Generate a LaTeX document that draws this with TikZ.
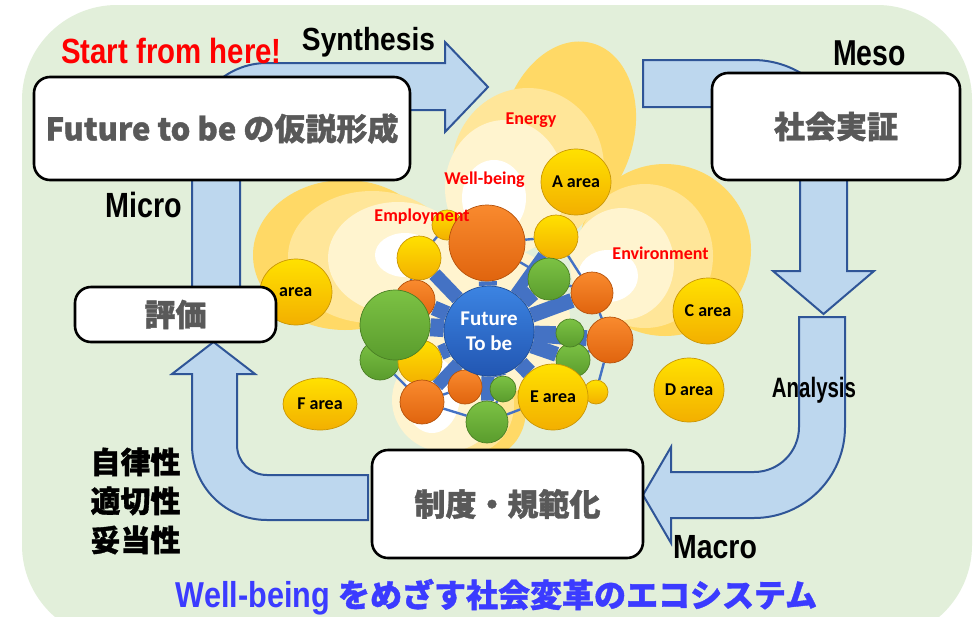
\documentclass[tikz,border=0pt]{standalone}
\usepackage{fontspec}
\usepackage{graphicx}
\usetikzlibrary{shapes.geometric}
\newfontfamily\jpfont{Noto Sans CJK JP}[BoldFeatures={FakeBold=1.2}]
\newfontfamily\arfont{Liberation Sans}
\newfontfamily\cbfont{Carlito}
\definecolor{bggreen}{HTML}{E2EFDA}
\definecolor{petalA}{HTML}{FFD966}
\definecolor{petalB}{HTML}{FFE699}
\definecolor{petalC}{HTML}{FFF4CF}
\definecolor{arrowfill}{HTML}{BDD7EE}
\definecolor{arrowline}{HTML}{2F5597}
\definecolor{boxtext}{HTML}{595959}
\definecolor{spokeblue}{HTML}{4472C4}
\definecolor{titleblue}{HTML}{3B3BFF}
\definecolor{ylt}{HTML}{FFE100}
\definecolor{ydk}{HTML}{F3AF00}
\definecolor{yedge}{HTML}{C99605}
\definecolor{olt}{HTML}{F98A2E}
\definecolor{odk}{HTML}{E0640E}
\definecolor{oedge}{HTML}{B5520B}
\definecolor{glt}{HTML}{7CC244}
\definecolor{gdk}{HTML}{5A9C2D}
\definecolor{gedge}{HTML}{4A7F24}
\definecolor{blt}{HTML}{3C84E2}
\definecolor{bdk}{HTML}{2256B2}
\definecolor{bedge}{HTML}{1E4C96}
\newcommand\narrow[3]{\scalebox{#1}[1]{\arfont\bfseries\fontsize{#2}{#2}\selectfont #3}}

\pgfdeclarelayer{back}
\pgfdeclarelayer{links}
\pgfdeclarelayer{front}
\pgfsetlayers{back,links,main,front}

\tikzset{
  flow/.style={fill=arrowfill, draw=arrowline, line width=2pt, line join=miter},
  stagebox/.style={draw=black, line width=2.6pt, fill=white, rounded corners=16pt,
    inner sep=0pt, text=boxtext, font=\jpfont\bfseries\fontsize{31}{36}\selectfont},
  bub/.style={circle, inner sep=0pt, minimum size=#1, line width=0.7pt},
  ybub/.style={bub=#1, top color=ylt, bottom color=ydk, draw=yedge},
  obub/.style={bub=#1, top color=olt, bottom color=odk, draw=oedge},
  gbub/.style={bub=#1, top color=glt, bottom color=gdk, draw=gedge},
  areabub/.style={ellipse, inner sep=0pt, top color=ylt, bottom color=ydk, draw=yedge,
    line width=0.7pt, font=\cbfont\bfseries\fontsize{18}{18}\selectfont},
  spoke/.style={draw=spokeblue},
  ring/.style={draw=spokeblue, line width=2.4pt},
  theme/.style={text=red, inner sep=0pt, font=\cbfont\bfseries\fontsize{18}{18}\selectfont},
  scale label/.style={inner sep=0pt, anchor=base},
}

\begin{document}
\begin{tikzpicture}[x=1pt, y=-1pt]
\useasboundingbox (0,0) rectangle (973,616);

\begin{pgfonlayer}{back}
  % backdrop
  \fill[white] (0,0) rectangle (973,616);
  \fill[bggreen, rounded corners=95pt] (22,5) rectangle (972,640);

  % petals of the flower: darkest shells first, lighter cores on top
  \fill[petalA, rotate around={-15:(568,132)}] (568,132) ellipse [x radius=66, y radius=92];
  \fill[petalA] (345,255) ellipse [x radius=92, y radius=75];
  \fill[petalA] (665,250) ellipse [x radius=86, y radius=86];
  \fill[petalA] (484,410) ellipse [x radius=42, y radius=48];

  \fill[petalB] (528,168) ellipse [x radius=76, y radius=80];
  \fill[petalB] (372,257) ellipse [x radius=84, y radius=66];
  \fill[petalB] (645,256) ellipse [x radius=68, y radius=72];
  \fill[petalB] (466,405) ellipse [x radius=48, y radius=50];

  \fill[petalC] (505,188) ellipse [x radius=60, y radius=68];
  \fill[petalC] (398,258) ellipse [x radius=70, y radius=56];
  \fill[petalC] (622,264) ellipse [x radius=52, y radius=56];
  \fill[petalC] (446,400) ellipse [x radius=54, y radius=52];
  \fill[petalC] (490,320) ellipse [x radius=80, y radius=75];

  \fill[white] (494,198) ellipse [x radius=32, y radius=38];
  \fill[white] (405,255) ellipse [x radius=30, y radius=22];
  \fill[white] (608,276) ellipse [x radius=30, y radius=26];
  \fill[white] (432,395) ellipse [x radius=28, y radius=38];

  % block arrows of the cycle
  \draw[flow] (192,300) -- (192,138) arc[start angle=180, end angle=270, radius=75]
    -- (445,63) -- (445,42) -- (488,87) -- (445,132) -- (445,110) -- (267,110)
    arc[start angle=270, end angle=180, radius=27] -- (240,300) -- cycle;
  \draw[flow] (643,60) -- (753,60) arc[start angle=270, end angle=360, radius=94]
    -- (847,271) -- (874,271) -- (823.5,314) -- (773,271) -- (800,271) -- (800,154)
    arc[start angle=0, end angle=-90, radius=47] -- (643,107) -- cycle;
  \draw[flow] (799,317) -- (845,317) -- (845,427) arc[start angle=0, end angle=90, radius=91]
    -- (671,518) -- (671,543) -- (643,495) -- (671,447) -- (671,472) -- (754,472)
    arc[start angle=90, end angle=0, radius=45] -- cycle;
  \draw[flow] (368,475) -- (267,475) arc[start angle=90, end angle=180, radius=30]
    -- (237,374) -- (255,374) -- (213.5,342) -- (172,374) -- (192,374) -- (192,445)
    arc[start angle=180, end angle=90, radius=75] -- (368,520) -- cycle;
\end{pgfonlayer}

% network bubbles
\node[ybub=30] (y1) at (447,225) {};
\node[obub=76] (o1) at (487,243) {};
\node[ybub=44] (y2) at (419,258) {};
\node[ybub=44] (y3) at (556,237) {};
\node[gbub=42] (g1) at (549,279) {};
\node[obub=42] (o2) at (592,293) {};
\node[obub=40] (o3) at (415,300) {};
\node[gbub=40] (g3) at (380,360) {};
\node[ybub=44] (y4) at (420,362) {};
\node[gbub=70] (g2) at (395,325) {};
\node[gbub=34] (g5) at (573,360) {};
\node[gbub=28] (g4) at (570,333) {};
\node[obub=46] (o4) at (610,340) {};
\node[obub=34] (o5) at (465,387) {};
\node[obub=44] (o6) at (422,402) {};
\node[gbub=26] (g6) at (503,389) {};
\node[gbub=42] (g7) at (487,422) {};
\node[ybub=24] (y5) at (596,392) {};
\node[areabub, minimum width=70, minimum height=66] (ea) at (553,397) {E area};
\node[bub=90, top color=blt, bottom color=bdk, draw=bedge, text=white, align=center,
      font=\cbfont\bfseries\fontsize{21}{25}\selectfont] (fut) at (489,331) {Future\\To be};

% spokes and ring links
\begin{pgfonlayer}{links}
  \foreach \n/\w in {o1/18, y2/14, y3/11, g1/16, o2/15, o3/15, g2/18, y4/15,
                     g4/13, o4/16, g5/15, o5/15, g6/13, ea/16, o6/13, g7/13}
    \draw[spoke, line width=\w] (fut) -- (\n);
  \draw[ring] (y2) -- (y1) -- (o1) -- (y3) -- (o2) -- (o4) -- (y5) -- (ea) -- (g7)
    -- (o6) -- (g3) -- (g2) -- (y2);
  \draw[ring] (o1) -- (g1) -- (o2);
  \draw[ring] (y2) -- (o3);
  \draw[ring] (o4) -- (g5);
  \draw[ring] (g6) -- (g7);
  \draw[ring] (o5) -- (o6);
\end{pgfonlayer}

% area bubbles
\node[areabub, minimum width=70, minimum height=66] (aa) at (576,182) {A area};
\node[areabub, minimum width=72, minimum height=66] (ba) at (296,292) {};
\node[inner sep=0pt, anchor=west, font=\cbfont\bfseries\fontsize{18}{18}\selectfont] (balbl) at (279,292) {area};
\node[areabub, minimum width=70, minimum height=66] (ca) at (708,311) {C area};
\node[areabub, minimum width=70, minimum height=64] (da) at (689,390) {D area};
\node[areabub, minimum width=74, minimum height=52] (fa) at (320,404) {F area};

% theme labels
\node[theme] (energy) at (531,120) {Energy};
\node[theme] (wellb) at (484.5,180) {Well-being};
\node[theme] (employ) at (422,217) {Employment};
\node[theme] (environ) at (660.5,253) {Environment};

\begin{pgfonlayer}{front}
  % stage boxes
  \node[stagebox, minimum width=376, minimum height=103] (hyp) at (222,128.5) {Future to be の仮説形成};
  \node[stagebox, minimum width=248, minimum height=107] (demo) at (836,126.5) {社会実証};
  \node[stagebox, minimum width=201, minimum height=55] (eval) at (175.5,314.5) {評価};
  \node[stagebox, minimum width=271, minimum height=108] (inst) at (507.5,504) {制度・規範化};

  % scale and phase labels
  \node[scale label, text=red] (start) at (171.5,63) {\narrow{0.84}{35}{Start from here!}};
  \node[scale label] (synth) at (368.5,50) {\narrow{0.88}{32}{Synthesis}};
  \node[scale label] (meso) at (869.5,65) {\narrow{0.79}{36}{Meso}};
  \node[scale label] (micro) at (144,217) {\narrow{0.82}{35}{Micro}};
  \node[scale label] (anal) at (814,397) {\narrow{0.73}{28}{Analysis}};
  \node[scale label] (macro) at (715,558) {\narrow{0.85}{33.5}{Macro}};

  \node[inner sep=0pt, align=center, font=\jpfont\bfseries\fontsize{30}{39}\selectfont] (crit)
    at (135.5,501) {自律性\\適切性\\妥当性};

  \node[inner sep=0pt, anchor=base, text=titleblue] (title) at (496.5,607)
    {\narrow{0.85}{36}{Well-being}\hspace{8pt}{\jpfont\bfseries\fontsize{32}{32}\selectfont をめざす社会変革のエコシステム}};
\end{pgfonlayer}
\end{tikzpicture}
\end{document}
